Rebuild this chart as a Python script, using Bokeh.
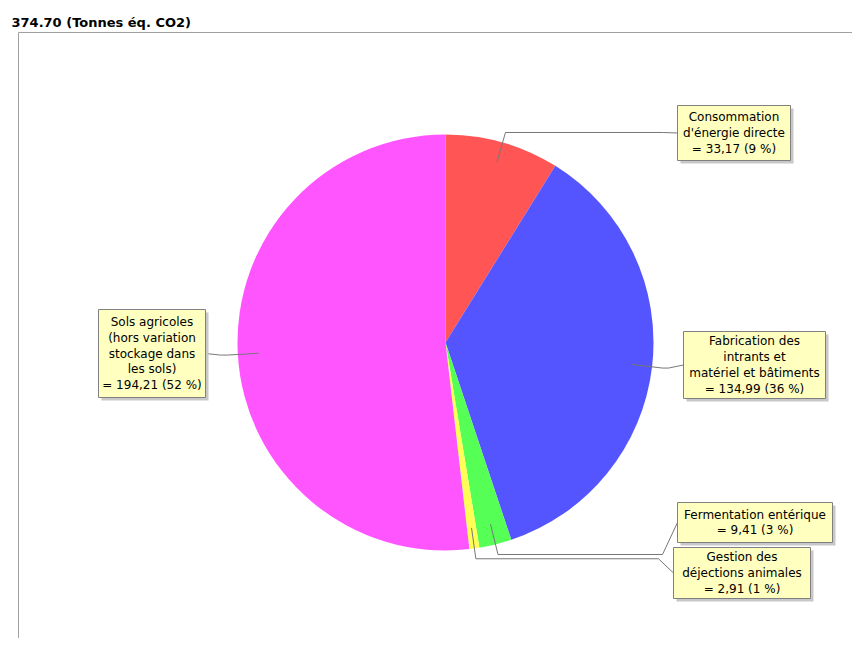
import math
from bokeh.plotting import figure
from bokeh.models import Range1d
from bokeh.core.properties import value
from bokeh.embed import file_html
from bokeh.resources import INLINE

# ---------------- data ----------------
title_text = "374.70 (Tonnes éq. CO2)"
categories = [
    "Consommation d'énergie directe",
    "Fabrication des intrants et matériel et bâtiments",
    "Fermentation entérique",
    "Gestion des déjections animales",
    "Sols agricoles (hors variation stockage dans les sols)",
]
values = [33.17, 134.99, 9.41, 2.91, 194.21]
label_lines = [
    ["Consommation", "d'énergie directe"],
    ["Fabrication des", "intrants et", "matériel et bâtiments"],
    ["Fermentation entérique"],
    ["Gestion des", "déjections animales"],
    ["Sols agricoles", "(hors variation", "stockage dans", "les sols)"],
]
colors = ["#FF5555", "#5555FF", "#55FF55", "#FFFF55", "#FF55FF"]

# ---------------- layout (window pixel coords) ----------------
W, H = 852, 638
CX, CY, R = 445, 342, 208
# label boxes: (left, top, right, bottom) in window pixels
boxes = [
    (677, 105, 790, 160),
    (683, 331, 825, 398),
    (677, 502, 832, 542),
    (673, 547, 810, 598),
    (98, 309, 205, 397),
]
LINE_H = 15.8


def Y(yw):
    return H - yw


p = figure(width=W, height=H, x_range=Range1d(0, W), y_range=Range1d(0, H),
           x_axis_type=None, y_axis_type=None, toolbar_location=None,
           output_backend="svg", min_border=0, outline_line_color=None,
           background_fill_color="white", border_fill_color="white")

# frame
p.line([18, 18, W], [Y(H), Y(32), Y(32)], line_color="#A0A0A0", line_width=1)

# title
p.text(x=[11], y=[Y(14)], text=[title_text], text_font=value("DejaVu Sans"),
       text_font_size="13px", text_font_style="bold", text_color="#000000",
       text_baseline="top", text_align="left")

# pie
total = sum(values)
starts, ends, mids = [], [], []
cum = 0.0
for v in values:
    f0 = cum / total
    cum += v
    f1 = cum / total
    starts.append(math.pi / 2 - 2 * math.pi * f0)
    ends.append(math.pi / 2 - 2 * math.pi * f1)
    mids.append((f0 + f1) / 2)

p.wedge(x=[CX] * len(values), y=[Y(CY)] * len(values), radius=R,
        start_angle=starts, end_angle=ends, direction="clock",
        fill_color=colors, line_color=None)

# leader lines and labels
for i, v in enumerate(values):
    a = 2 * math.pi * mids[i]
    sx, sy = math.sin(a), -math.cos(a)
    ax, ay = CX + 0.9 * R * sx, CY + 0.9 * R * sy
    ex, ey = CX + 1.05 * R * sx, CY + 1.05 * R * sy
    l, t, r, b = boxes[i]
    bcy = (t + b) / 2
    if sx > 0:
        bx = l
        kx = bx - 15
    else:
        bx = r
        kx = bx + 15
    xs = [ax, ex, kx, bx]
    ys = [ay, ey, ey, bcy]
    p.line(xs, [Y(y) for y in ys], line_color="#777777", line_width=1)

    # shadow
    p.quad(left=l + 3, right=r + 3, top=Y(t + 3), bottom=Y(b + 3),
           fill_color="#C8C8C8", line_color=None)
    p.quad(left=l, right=r, top=Y(t), bottom=Y(b),
           fill_color="#FFFFC0", line_color="#808080", line_width=1)

    pct = round(100 * v / total)
    lines = label_lines[i] + ["= " + f"{v:.2f}".replace(".", ",") + f" ({pct} %)"]
    n = len(lines)
    cxb = (l + r) / 2
    tys = [bcy + (k - (n - 1) / 2) * LINE_H for k in range(n)]
    p.text(x=[cxb] * n, y=[Y(y) for y in tys], text=lines,
           text_font=value("DejaVu Sans"), text_font_size="12px",
           text_color="#000000", text_align="center", text_baseline="middle")

open("out.html", "w").write(file_html(p, INLINE))
